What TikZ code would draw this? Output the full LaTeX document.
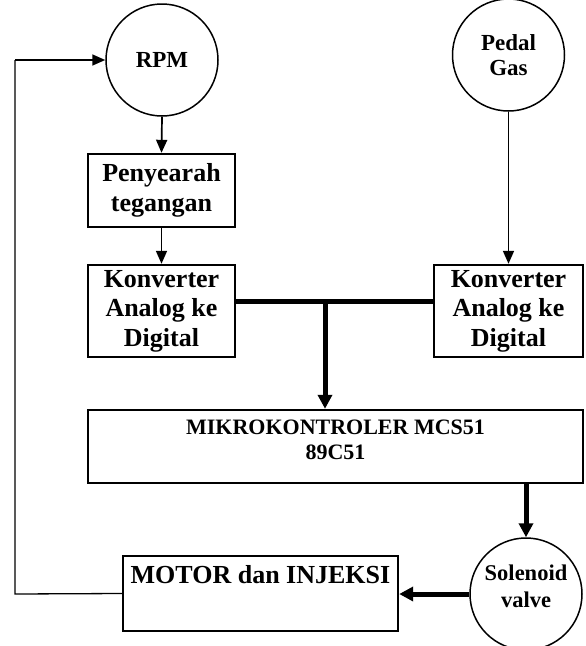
\documentclass[tikz,border=0pt]{standalone}
\usepackage{fontspec}
\setmainfont{Liberation Serif}
\usetikzlibrary{arrows.meta,calc}
\begin{document}
\begin{tikzpicture}[x=1pt,y=-1pt,
  blk/.style={draw, line width=2.4pt, inner sep=0pt, align=center,
    font=\fontsize{26}{29.5}\selectfont\bfseries},
  rnd/.style={draw, circle, line width=1.5pt, minimum size=112pt, inner sep=0pt,
    align=center, font=\fontsize{23}{25}\selectfont\bfseries},
  thinarrow/.style={line width=1.7pt, -{Triangle[length=13pt,width=11pt]}},
  thinline/.style={line width=1.3pt},
  bus/.style={line width=5pt},
  busarrow/.style={line width=5pt, -{Triangle[length=14pt,width=14pt]}}]
\useasboundingbox (0,0) rectangle (586,646);

\node[rnd] (rpm) at (162,60) {RPM};
\node[rnd] (pedal) at (508.5,55) {Pedal\\Gas};
\node[blk, minimum width=147pt, minimum height=73pt] (peny) at (161.5,190.5) {Penyearah\\tegangan};
\node[blk, minimum width=147pt, minimum height=92pt] (konL) at (161.5,311) {Konverter\\Analog ke\\Digital};
\node[blk, minimum width=149pt, minimum height=92pt] (konR) at (508.5,311) {Konverter\\Analog ke\\Digital};
\node[blk, minimum width=495pt, minimum height=73pt, text depth=13pt,
  font=\fontsize{22}{25}\selectfont\bfseries] (mikro) at (335.5,446.5) {MIKROKONTROLER MCS51\\89C51};
\node[rnd, text depth=16pt, font=\fontsize{22.5}{27}\selectfont\bfseries] (sol) at (526,594) {Solenoid\\valve};
\node[blk, minimum width=275pt, minimum height=75pt, text depth=38pt,
  font=\fontsize{26}{30}\selectfont\bfseries] (motor) at (260.5,593.5) {MOTOR dan INJEKSI};

\draw[thinarrow] (rpm.south) -- (peny.north);
\draw[thinarrow] (peny.south) -- (konL.north);
\draw[thinarrow] (pedal.south) -- (konR.north);

\coordinate (busA) at ($(konL.east)+(0,-10)$);
\coordinate (busB) at ($(konR.west)+(0,-10)$);
\coordinate (tap) at (325,301);
\draw[bus] (busA) -- (busB);
\draw[busarrow] (tap) -- (tap |- mikro.north);

\draw[busarrow] (mikro.south -| sol.north) -- (sol.north);
\draw[busarrow] (sol.west) -- (sol.west -| motor.east);

\coordinate (fb) at (15,594);
\draw[thinline] (motor.west) -- (fb) -- (fb |- rpm.west);
\draw[thinarrow] (fb |- rpm.west) -- (rpm.west);
\end{tikzpicture}
\end{document}
